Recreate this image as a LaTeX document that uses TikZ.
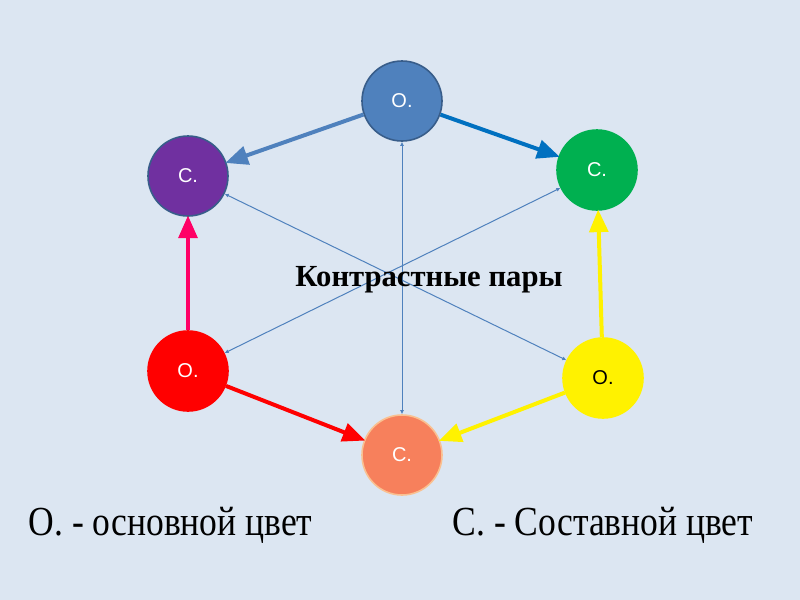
\documentclass[tikz,border=0pt]{standalone}
\usepackage{fontspec}
\setmainfont{Liberation Serif}
\setsansfont{Liberation Sans}
\usetikzlibrary{arrows.meta}
\definecolor{PageBlue}{HTML}{DCE6F2}
\definecolor{SteelBlue}{HTML}{4F81BD}
\definecolor{DarkBlue}{HTML}{385D8A}
\definecolor{MidBlue}{HTML}{0070C0}
\definecolor{Violet}{HTML}{7030A0}
\definecolor{Grass}{HTML}{00B050}
\definecolor{Salmon}{HTML}{F7805C}
\definecolor{LightSalmon}{HTML}{FAC090}
\definecolor{Rose}{HTML}{FF0066}

\begin{document}
\begin{tikzpicture}[
  x=0.75pt,y=-0.75pt,
  circ/.style={circle,minimum size=60pt,inner sep=0pt,line width=1.2pt,font=\sffamily\fontsize{15}{15}\selectfont,text=white},
  arr/.style={-{Triangle[length=17pt,width=14pt]},line width=3pt,shorten >=-1pt},
  thin/.style={{Latex[length=3pt,width=3pt]}-{Latex[length=3pt,width=3pt]},line width=0.75pt,draw=SteelBlue},
  keytext/.style={anchor=west,font=\fontsize{31}{31}\selectfont}
]
\fill[PageBlue] (0,0) rectangle (800,600);
% circles
\node[circ,fill=SteelBlue,draw=DarkBlue] (primtop) at (402,101) {О.};
\node[circ,fill=Violet,draw=DarkBlue] (compleft) at (188,176) {С.};
\node[circ,fill=Grass,draw=Grass] (compright) at (597,170) {С.};
\node[circ,fill=red,draw=red] (primleft) at (188,371) {О.};
\node[circ,fill=yellow,draw=yellow,text=black] (primright) at (603,378) {О.};
\node[circ,fill=Salmon,draw=LightSalmon] (compbottom) at (402,455) {С.};
% thin lines
\draw[thin] (primtop) -- (compbottom);
\draw[thin] (compleft) -- (primright);
\draw[thin] (compright) -- (primleft);
% thick arrows
\draw[arr,draw=SteelBlue,fill=SteelBlue] (primtop) -- (compleft);
\draw[arr,draw=MidBlue,fill=MidBlue] (primtop) -- (compright);
\draw[arr,draw=Rose,fill=Rose] (primleft) -- (compleft);
\draw[arr,draw=red,fill=red] (primleft) -- (compbottom);
\draw[arr,draw=yellow,fill=yellow] (primright) -- (compright);
\draw[arr,draw=yellow,fill=yellow] (primright) -- (compbottom);
% labels
\node[font=\bfseries\fontsize{23}{23}\selectfont] (title) at (429,280) {Контрастные пары};
\node[keytext] (keyprim) at (24,525) {\scalebox{0.86}[1]{О. - основной цвет}};
\node[keytext] (keycomp) at (448,525) {\scalebox{0.86}[1]{С. - Составной цвет}};
\end{tikzpicture}
\end{document}
